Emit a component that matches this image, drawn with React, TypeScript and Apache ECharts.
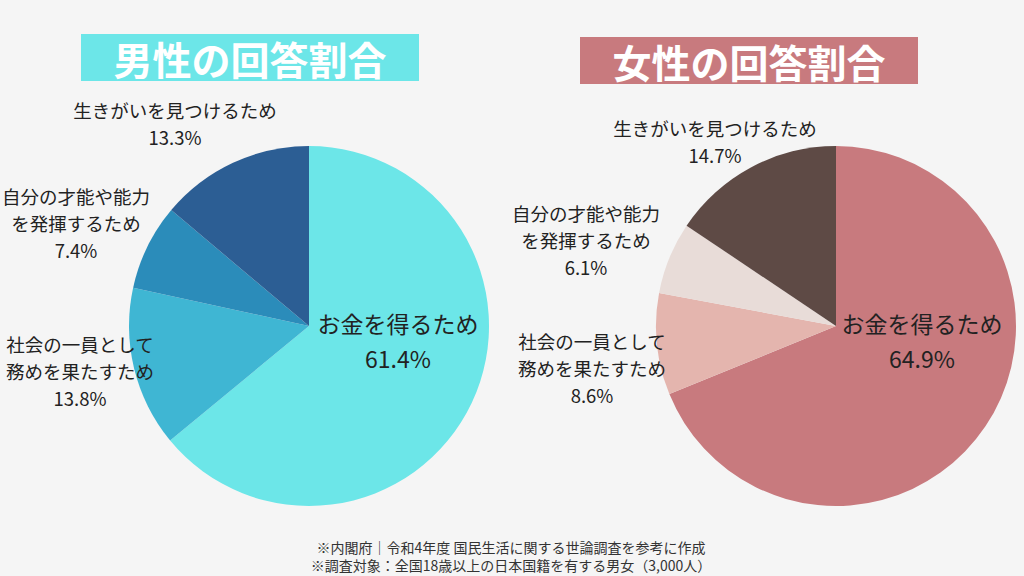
import React, { useEffect, useRef } from "react";
import * as echarts from "echarts";

const categories = [
  "お金を得るため",
  "社会の一員として\n務めを果たすため",
  "自分の才能や能力\nを発揮するため",
  "生きがいを見つけるため",
];
const maleValues = [61.4, 13.8, 7.4, 13.3];
const femaleValues = [64.9, 8.6, 6.1, 14.7];
const maleColors = ["#6ce6e8", "#3fb6d3", "#2b8cba", "#2c5e94"];
const femaleColors = ["#c87a7e", "#e4b5ae", "#e8dcd8", "#5e4a45"];
const titles = ["男性の回答割合", "女性の回答割合"];
const footnotes = [
  "※内閣府｜令和4年度 国民生活に関する世論調査を参考に作成",
  "※調査対象：全国18歳以上の日本国籍を有する男女（3,000人）",
];

const FONT = '"Noto Sans CJK JP", "Noto Sans", sans-serif';

// label anchor positions (layout only)
const maleLabelPos = [
  [398, 340],
  [80, 371],
  [76, 223],
  [175, 123],
];
const femaleLabelPos = [
  [922, 340],
  [592, 368],
  [586, 240],
  [715, 141],
];

function makeSeries(values: number[], colors: string[], center: string[], pos: number[][]) {
  return {
    type: "pie",
    center,
    radius: 180,
    startAngle: 90,
    clockwise: true,
    silent: true,
    labelLine: { show: false },
    emphasis: { disabled: true },
    data: values.map((v, i) => ({
      name: categories[i],
      value: v,
      itemStyle: { color: colors[i] },
      label:
        i === 0
          ? { position: "inside", fontSize: 23, lineHeight: 35 }
          : { position: "outside", fontSize: 18.5, lineHeight: 27 },
    })),
    label: {
      show: true,
      formatter: "{b}\n{c}%",
      color: "#222222",
      fontFamily: FONT,
      align: "center",
      overflow: "none",
      width: 400,
    },
    labelLayout: (params: any) => ({
      x: pos[params.dataIndex][0],
      y: pos[params.dataIndex][1],
      align: "center",
      verticalAlign: "middle",
      hideOverlap: false,
    }),
  };
}

export default function App() {
  const ref = useRef<HTMLDivElement>(null);
  useEffect(() => {
    const chart = echarts.init(ref.current!, null, { renderer: "svg" });
    chart.setOption({
      animation: false,
      backgroundColor: "#f5f5f5",
      series: [
        makeSeries(maleValues, maleColors, ["309", "326"], maleLabelPos),
        makeSeries(femaleValues, femaleColors, ["836", "326"], femaleLabelPos),
      ],
      graphic: [
        { type: "rect", shape: { x: 81, y: 34, width: 338, height: 47 }, style: { fill: "#6ce6e8" } },
        {
          type: "text",
          x: 250,
          y: 58,
          style: {
            text: titles[0],
            fill: "#ffffff",
            font: `bold 39px ${FONT}`,
            align: "center",
            verticalAlign: "middle",
          },
        },
        { type: "rect", shape: { x: 580, y: 37, width: 338, height: 47 }, style: { fill: "#c87a7e" } },
        {
          type: "text",
          x: 749,
          y: 61,
          style: {
            text: titles[1],
            fill: "#ffffff",
            font: `bold 39px ${FONT}`,
            align: "center",
            verticalAlign: "middle",
          },
        },
        {
          type: "text",
          x: 511,
          y: 547,
          style: { text: footnotes[0], fill: "#333333", font: `14px ${FONT}`, align: "center", verticalAlign: "middle" },
        },
        {
          type: "text",
          x: 511,
          y: 565,
          style: { text: footnotes[1], fill: "#333333", font: `14px ${FONT}`, align: "center", verticalAlign: "middle" },
        },
      ],
    });
    return () => chart.dispose();
  }, []);
  return <div ref={ref} style={{ position: "fixed", left: 0, top: 0, width: 1024, height: 576 }} />;
}
